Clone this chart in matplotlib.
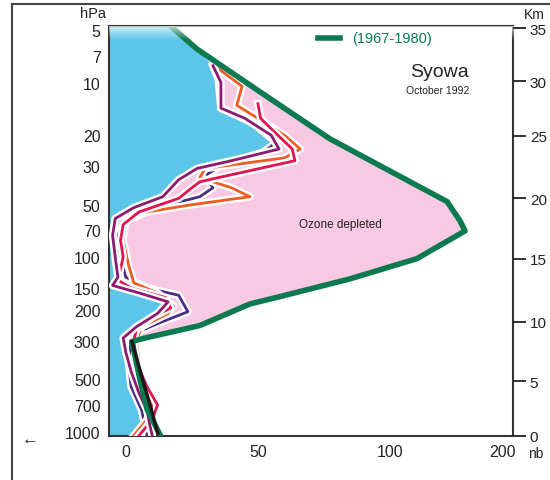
import matplotlib
matplotlib.use('Agg')
import matplotlib.pyplot as plt
import matplotlib.patheffects as pe
from matplotlib.lines import Line2D
import numpy as np

plt.rcParams['font.family'] = ['Liberation Sans', 'DejaVu Sans']

# ozone partial pressure (nb) vs pressure (hPa)
clim_v = [14, 17.4, 26.9, 50.8, 77.3, 96.2, 121.6, 126.5, 128.4, 110.2, 84.8, 58.3, 47.0, 28.0, 6.4, 2.3, 5.3, 8.0, 12.9]
clim_p = [4.3, 4.81, 6.42, 11.3, 21.0, 29.9, 48.0, 61.9, 70.6, 101.8, 133, 168, 185, 246, 292, 304, 497, 739, 1035]

black_v = [2.3, 6.3, 9.6, 12.1]
black_p = [304, 497, 739, 1020]

indigo_v = [33, 35, 36, 48, 57, 52, 36, 30, 33, 28, 12, 0, -3, -2, 0, 8, 20, 23.5, 12, 4, 2, 1, 2, 6, 8]
indigo_p = [8.0, 9.6, 14, 17, 22, 25, 30, 34, 40, 45, 52, 62, 75, 100, 130, 150, 165, 205, 240, 270, 300, 400, 550, 750, 1050]

red_v = [50, 51, 56, 63, 64, 35, 28, 25, 20, 5, -1, -2, -1, -3, 2, 15, 17, 10, 4, 3, 4, 8, 12, 10, 5]
red_p = [13.2, 16, 19, 24, 28, 35, 37, 40, 46, 55, 65, 80, 100, 135, 150, 170, 195, 220, 260, 300, 400, 550, 700, 850, 1050]

orange_v = [34, 44, 42, 50, 60, 66, 60, 30, 28, 40, 47, 25, 5, 0, -1, 1, 3, 12, 18, 16, 6, 4, 5, 6, 10, 8, 3]
orange_p = [8.1, 10.5, 13.5, 16, 20, 24, 27, 31, 35, 40, 45, 50, 56, 62, 80, 110, 140, 160, 190, 210, 250, 300, 400, 550, 700, 850, 1050]

magenta_v = [33, 36, 36, 45, 55, 58, 40, 27, 20, 14, 3, -4, -5, -4, -3, -5, 5, 16, 12, 4, -1, 0, 2, 5, 8, 9, 10]
magenta_p = [8.0, 10, 14, 16, 20, 24, 28, 31, 36, 45, 52, 60, 75, 100, 130, 145, 160, 180, 210, 250, 290, 350, 450, 600, 750, 900, 1050]

p_ticks = [5, 7, 10, 20, 30, 50, 70, 100, 150, 200, 300, 500, 700, 1000]
x_tick_labels = ['0', '50', '100', '200']
x_tick_pos = [0, 50, 100, 142.4]
km_labels = ['35', '30', '25', '20', '15', '10', '5', '0']
km_pos = [4.87, 9.79, 20.2, 45.8, 102, 234, 511, 1055]

xmin, xmax = -6.4, 146.6
ptop, pbot = 4.74, 1055

blue = '#5cc6e8'
pink = '#f7c9e2'
green = '#0b7a4e'

fig = plt.figure(figsize=(5.5, 4.81), dpi=100)
ax = fig.add_axes([0.198, 0.0915, 0.735, 0.8524])
ax.set_yscale('log')

# blue region: left of the profiles, up to the climatology at the top
bx = [xmin] + [v for v, p in zip(clim_v, clim_p) if p < 8] + magenta_v + [xmin]
by = [ptop * 0.9] + [p for p in clim_p if p < 8] + magenta_p + [pbot * 1.1]
ax.fill(bx, by, color=blue, zorder=1, lw=0)

# pink region: between 1992 profile and the climatology
k = [i for i, p in enumerate(magenta_p) if p <= 300]
g = [i for i, p in enumerate(clim_p) if 8 <= p <= 304]
px = [magenta_v[i] for i in k] + [clim_v[i] for i in g[::-1]]
py = [magenta_p[i] for i in k] + [clim_p[i] for i in g[::-1]]
ax.fill(px, py, color=pink, zorder=1, lw=0)

# faded top band
grad = np.ones((50, 1, 4))
grad[:, 0, 3] = np.linspace(0.75, 0.0, 50)
ax.imshow(grad, extent=[0, 1, 0.965, 1.0], transform=ax.transAxes, aspect='auto', zorder=4)

halo = [pe.Stroke(linewidth=5.5, foreground='white'), pe.Normal()]
for vv, pp, c in [(indigo_v, indigo_p, '#4b2c85'), (orange_v, orange_p, '#f05a24'),
                  (red_v, red_p, '#e4134f'), (magenta_v, magenta_p, '#8e1a70')]:
    ax.plot(vv, pp, color=c, lw=2, zorder=3, path_effects=halo)

ax.plot(clim_v, clim_p, color=green, lw=4, zorder=3, solid_joinstyle='round')
ax.plot(black_v, black_p, color='#1a1a1a', lw=2.5, zorder=3)

ax.set_xlim(xmin, xmax)
ax.set_ylim(pbot, ptop)
ax.set_yticks(p_ticks)
ax.set_yticklabels([str(p) for p in p_ticks])
ax.minorticks_off()
ax.set_xticks(x_tick_pos)
ax.set_xticklabels(x_tick_labels)
ax.tick_params(axis='both', length=0, labelsize=11.5, colors='#222222', pad=6)
for s in ax.spines.values():
    s.set_linewidth(1.5)
    s.set_color('#333333')

ax2 = ax.twinx()
ax2.set_yscale('log')
ax2.set_ylim(pbot, ptop)
ax2.set_yticks(km_pos)
ax2.set_yticklabels(km_labels)
ax2.minorticks_off()
ax2.tick_params(axis='y', direction='out', length=9, width=1.3, labelsize=11, colors='#222222', pad=3)
for s in ax2.spines.values():
    s.set_visible(False)

# legend and annotations
ax.add_line(Line2D([0.517, 0.572], [0.971, 0.971], transform=ax.transAxes, color=green, lw=4, zorder=5))
ax.text(0.601, 0.971, '(1967-1980)', transform=ax.transAxes, color=green, fontsize=10.5, va='center', zorder=5)
ax.text(0.819, 0.89, 'Syowa', transform=ax.transAxes, fontsize=14, ha='center', va='center', color='#222222', zorder=5)
ax.text(0.814, 0.844, 'October 1992', transform=ax.transAxes, fontsize=7.5, ha='center', va='center', color='#222222', zorder=5)
ax.text(0.572, 0.517, 'Ozone depleted', transform=ax.transAxes, fontsize=8.5, ha='center', va='center', color='#222222', zorder=5)

fig.text(93 / 550, 1 - 14 / 481, 'hPa', fontsize=10.5, ha='center', va='center', color='#222222')
fig.text(524 / 550, 1 - 15 / 481, 'Km', fontsize=10, ha='left', va='center', color='#222222')
fig.text(528 / 550, 1 - 454 / 481, 'nb', fontsize=10, ha='left', va='center', color='#222222')
fig.text(30 / 550, 1 - 440 / 481, '\u2190', fontsize=12, ha='center', va='center', color='#222222', weight='bold')

# outer frame
fig.add_artist(Line2D([12 / 550, 12 / 550], [0, 1 - 5 / 481], color='#444444', lw=1.5))
fig.add_artist(Line2D([12 / 550, 1], [1 - 5 / 481, 1 - 5 / 481], color='#444444', lw=1.5))

fig.savefig('out.png', dpi=100)
